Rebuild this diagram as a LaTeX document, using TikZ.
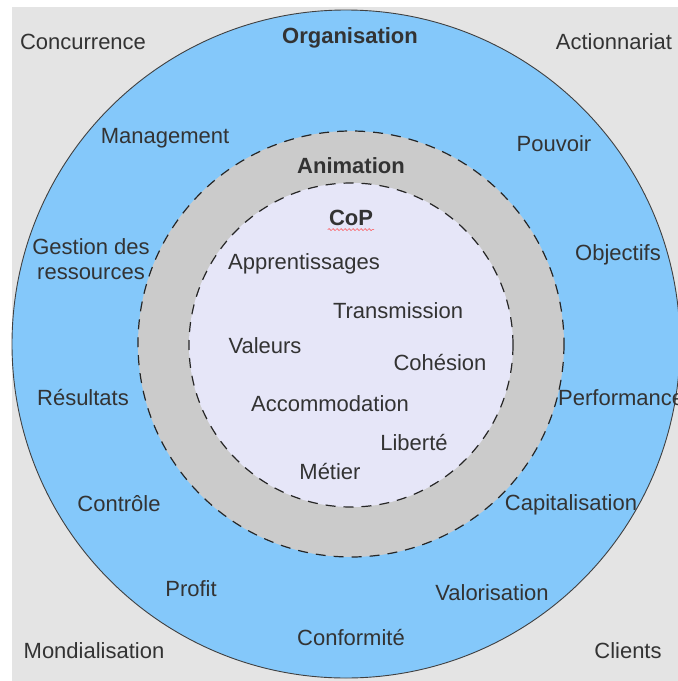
\documentclass[tikz,border=0pt]{standalone}
\usepackage{fontspec}
\setmainfont{Liberation Sans}
\usetikzlibrary{decorations.pathmorphing}
\definecolor{fondgris}{HTML}{E4E4E4}
\definecolor{orgbleu}{HTML}{84C8FA}
\definecolor{animgris}{HTML}{CBCBCB}
\definecolor{coplav}{HTML}{E6E6F8}
\definecolor{texte}{HTML}{333333}
\tikzset{
  mot/.style={text=texte, font=\fontsize{22}{25}\selectfont, inner sep=1pt, align=center},
  titre/.style={mot, font=\fontsize{22}{25}\selectfont\bfseries},
  pointille/.style={draw=black!85, dash pattern=on 10pt off 8pt, line width=1.2pt}
}
\begin{document}
\begin{tikzpicture}[x=1pt, y=-1pt]
                \useasboundingbox (0,0) rectangle (678,681);
                \fill[white] (0,0) rectangle (678,681);
                \fill[fondgris] (12,7) rectangle (678,681);
                \filldraw[fill=orgbleu, draw=black!75, line width=0.9pt] (346,344) circle[radius=334];
                \fill[animgris] (351,344) circle[radius=213];
                \draw[pointille] (351,344) circle[radius=213];
                \fill[coplav] (351,345) circle[radius=162];
                \draw[pointille] (351,345) circle[radius=162];

                \node[mot] (conc) at (83,42) {Concurrence};
                \node[titre] (org) at (350,38) {Organisation};
                \node[mot] (action) at (614,42) {Actionnariat};
                \node[mot] (manag) at (165,138) {Management};
                \node[mot] (pouv) at (554,144) {Pouvoir};
                \node[titre] (anim) at (351,166) {Animation};
                \node[titre] (cop) at (351,218) {CoP};
                \node[mot] (gest) at (91,259) {Gestion des\\ressources};
                \node[mot] (appr) at (304,264) {Apprentissages};
                \node[mot] (obj) at (618,255) {Objectifs};
                \node[mot] (trans) at (398,311) {Transmission};
                \node[mot] (val) at (265,346) {Valeurs};
                \node[mot] (cohes) at (440,363) {Cohésion};
                \node[mot] (resul) at (83,398) {Résultats};
                \node[mot, anchor=west] (perf) at (557,398) {Performance};
                \node[mot] (accom) at (330,404) {Accommodation};
                \node[mot] (liber) at (414,443) {Liberté};
                \node[mot] (metier) at (330,472) {Métier};
                \node[mot] (contr) at (119,504) {Contrôle};
                \node[mot] (capit) at (571,505) {Capitalisation};
                \node[mot] (profit) at (191,589) {Profit};
                \node[mot] (valor) at (492,593) {Valorisation};
                \node[mot] (conf) at (351,637) {Conformité};
                \node[mot] (mond) at (94,651) {Mondialisation};
                \node[mot] (clients) at (628,651) {Clients};

                \draw[red!75, line width=0.5pt, decorate, decoration={snake, amplitude=1pt, segment length=4pt}]
                    ([yshift=-4pt]cop.base west) -- ([yshift=-4pt]cop.base east);
            \end{tikzpicture}
\end{document}
